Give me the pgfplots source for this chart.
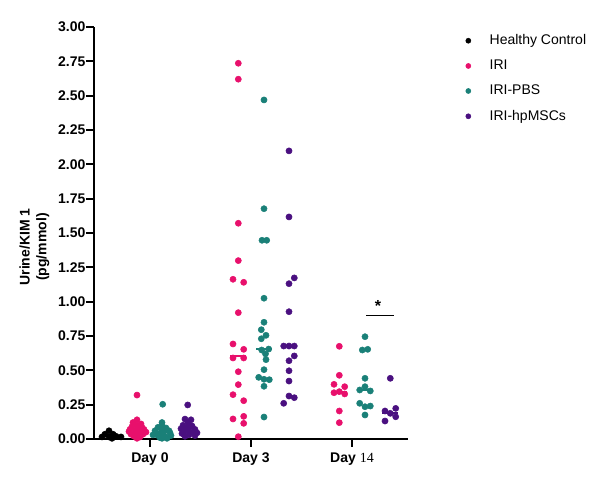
\documentclass[border=0pt]{standalone}
\usepackage{pgfplots}
\pgfplotsset{compat=1.18}
\usepackage{fontspec}
\setmainfont{Liberation Sans}
\newfontfamily\tnr{Liberation Serif}
\definecolor{cPink}{HTML}{E8106C}
\definecolor{cTeal}{HTML}{1A8078}
\definecolor{cPurp}{HTML}{4A1080}
\begin{document}
\begin{tikzpicture}
\path[use as bounding box] (0,0) rectangle (453.75pt,360pt);
\begin{axis}[
  at={(70.5pt,30.75pt)}, anchor=south west,
  scale only axis, width=235.5pt, height=309pt,
  xmin=94, xmax=408, ymin=0, ymax=3,
  clip=false,
  axis lines=left, axis line style={line width=1.5pt, -},
  every tick/.style={line width=1.5pt, black},
  tick align=outside, major tick length=5.8pt,
  xtick={150,251,352},
  xticklabels={Day 0, Day 3, {Day {\tnr\mdseries 14}}},
  ytick={0,0.25,...,3.0},
  /pgf/number format/fixed, /pgf/number format/fixed zerofill, /pgf/number format/precision=2,
  /pgf/number format/assume math mode=true,
  ticklabel style={font=\bfseries\fontsize{10.5}{12}\selectfont},
  yticklabel style={inner sep=0.5pt},
  xticklabel style={yshift=-1pt},
  ylabel={Urine/KIM 1\\(pg/mmol)},
  ylabel style={font=\bfseries\fontsize{10.5}{12.6}\selectfont, align=center, at={(axis description cs:-0.19,0.466)}, anchor=center, rotate=0},
  legend style={draw=none, fill=none, at={(axis description cs:1.17,0.995)}, anchor=north west,
    font=\fontsize{10.5}{12}\selectfont, row sep=6pt},
  legend cell align=left,
  legend image code/.code={\path[draw=none,fill=none] (0pt,0pt) -- (16pt,0pt); \draw[#1] plot[only marks] coordinates {(2pt,0pt)};},
  every axis plot/.append style={only marks, mark=*, mark size=2.3pt},
]
\addlegendimage{only marks, mark=*, mark size=1.9pt, black}\addlegendentry{Healthy Control}
\addlegendimage{only marks, mark=*, mark size=1.9pt, cPink}\addlegendentry{IRI}
\addlegendimage{only marks, mark=*, mark size=1.9pt, cTeal}\addlegendentry{IRI-PBS}
\addlegendimage{only marks, mark=*, mark size=1.9pt, cPurp}\addlegendentry{IRI-hpMSCs}

% median lines
\addplot[sharp plot, no marks, line width=1.5pt, black, forget plot] coordinates {(104,0.02) (120,0.02)};
\addplot[sharp plot, no marks, line width=1.5pt, cPink, forget plot] coordinates {(129,0.07) (145,0.07)};
\addplot[sharp plot, no marks, line width=1.5pt, cTeal, forget plot] coordinates {(154,0.05) (170,0.05)};
\addplot[sharp plot, no marks, line width=1.5pt, cPurp, forget plot] coordinates {(180,0.08) (196,0.08)};
\addplot[sharp plot, no marks, line width=1.5pt, cPink, forget plot] coordinates {(230,0.605) (246,0.605)};
\addplot[sharp plot, no marks, line width=1.5pt, cTeal, forget plot] coordinates {(256,0.655) (272,0.655)};
\addplot[sharp plot, no marks, line width=1.5pt, cPurp, forget plot] coordinates {(281,0.677) (297,0.677)};
\addplot[sharp plot, no marks, line width=1.5pt, cPink, forget plot] coordinates {(331,0.345) (347,0.345)};
\addplot[sharp plot, no marks, line width=1.5pt, cTeal, forget plot] coordinates {(357,0.357) (373,0.357)};
\addplot[sharp plot, no marks, line width=1.5pt, cPurp, forget plot] coordinates {(382,0.19) (398,0.19)};

% Healthy control, day 0
\addplot[black, forget plot] table {
x y
109 0.06
105 0.035
113 0.035
102 0.015
109 0.015
116 0.02
121 0.015
112 0.005
};
% IRI day 0
\addplot[cPink, forget plot] table {
x y
137 0.32
137 0.14
133 0.12
141 0.11
137 0.10
132 0.09
142 0.085
130 0.07
137 0.075
144 0.07
129 0.055
135 0.05
140 0.055
146 0.05
131 0.035
137 0.03
143 0.035
134 0.02
140 0.015
137 0.005
};
% IRI-PBS day 0
\addplot[cTeal, forget plot] table {
x y
162.7 0.253
162 0.12
162 0.10
158 0.085
166 0.08
155 0.06
162 0.065
169 0.06
156 0.045
163 0.04
170 0.045
158 0.025
165 0.02
153 0.03
171 0.025
160 0.01
167 0.005
162 0.005
};
% IRI-hpMSCs day 0
\addplot[cPurp, forget plot] table {
x y
187.7 0.248
185 0.145
191 0.14
188 0.12
183 0.10
192 0.095
187 0.085
181 0.075
195 0.07
188 0.065
184 0.055
191 0.05
197 0.045
182 0.04
189 0.03
195 0.025
185 0.02
};
% IRI day 3
\addplot[cPink, forget plot] table {
x y
238.3 2.736
238.3 2.62
238.3 1.571
238.3 1.299
233 1.163
243.7 1.141
238.3 0.92
233 0.692
243.7 0.653
233 0.59
243.7 0.59
238.3 0.49
238.3 0.396
233 0.323
243.7 0.279
233 0.146
243.7 0.165
243.7 0.114
238.3 0.017
};
% IRI-PBS day 3
\addplot[cTeal, forget plot] table {
x y
264 2.469
264 1.677
262 1.447
266.7 1.447
264 1.025
264 0.85
261.3 0.796
266 0.755
261.3 0.73
261.7 0.648
268.7 0.655
265.5 0.62
266 0.578
264 0.505
258.7 0.449
264 0.435
269.3 0.432
264 0.384
264 0.16
};
% IRI-hpMSCs day 3
\addplot[cPurp, forget plot] table {
x y
289 2.098
289 1.617
294.3 1.173
289 1.131
289 0.927
283.7 0.677
289 0.677
294.3 0.677
294.3 0.605
289 0.57
289 0.497
289 0.422
289 0.313
294.3 0.301
283.7 0.26
};
% IRI day 14
\addplot[cPink, forget plot] table {
x y
339.3 0.675
339.3 0.464
334 0.398
344.7 0.381
334 0.337
339.3 0.345
344.7 0.328
339.3 0.204
339.3 0.119
};
% IRI-PBS day 14
\addplot[cTeal, forget plot] table {
x y
365 0.745
362.3 0.648
367.7 0.653
365 0.442
359.7 0.357
365 0.381
370.3 0.35
359.7 0.26
365 0.235
370.3 0.24
365 0.175
};
% IRI-hpMSCs day 14
\addplot[cPurp, forget plot] table {
x y
390.3 0.442
385 0.204
390.3 0.187
395.7 0.223
395.7 0.162
385 0.131
};
% significance bar
\addplot[sharp plot, no marks, line width=0.8pt, black, forget plot] coordinates {(366,0.90) (394,0.90)};
\node[font=\bfseries\fontsize{12}{12}\selectfont, anchor=base, inner sep=0pt] at (axis cs:378,0.925) {*};
\end{axis}
\end{tikzpicture}
\end{document}
